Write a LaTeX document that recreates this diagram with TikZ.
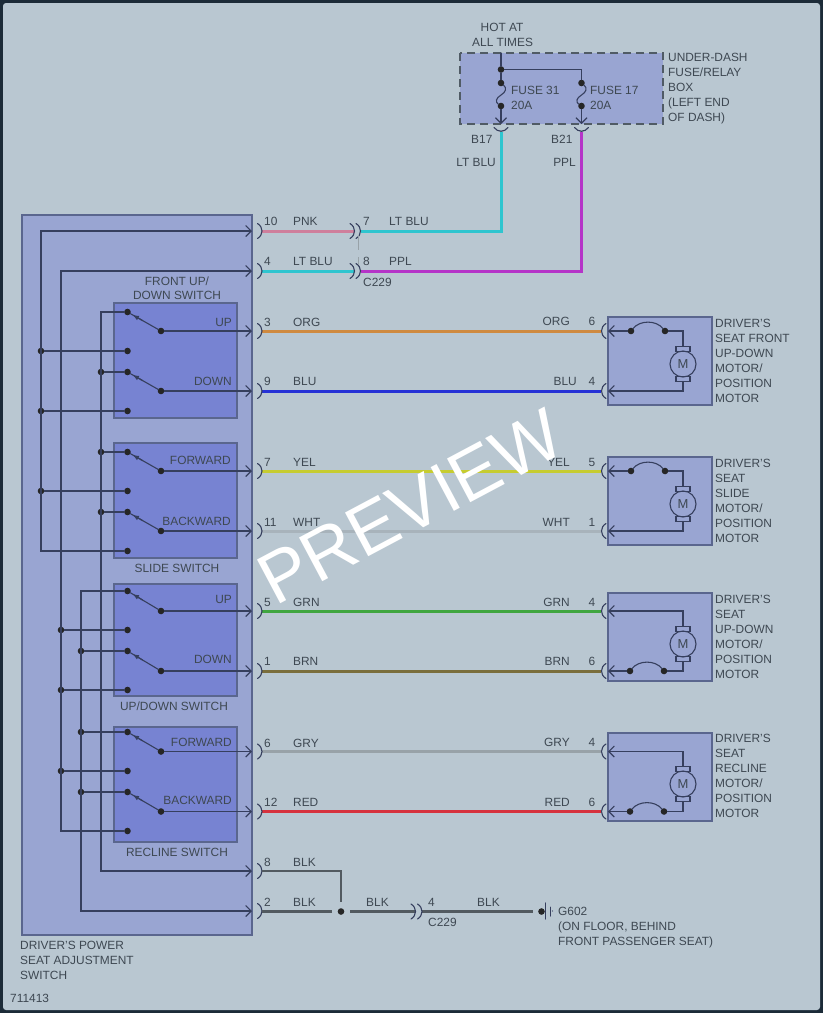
\documentclass[tikz,border=0pt]{standalone}
\usepackage{fontspec}
\setmainfont{Liberation Sans}
\usetikzlibrary{arrows.meta,calc}
\definecolor{bgc}{HTML}{B9C7D1}
\definecolor{framec}{HTML}{1C2B38}
\definecolor{mainc}{HTML}{99A5D2}
\definecolor{swc}{HTML}{7783D2}
\definecolor{edgec}{HTML}{5A668E}
\definecolor{linec}{HTML}{363F5E}
\definecolor{txtc}{HTML}{3E4852}
\definecolor{pnkc}{HTML}{CF7F9C}
\definecolor{ltbc}{HTML}{2FC5CF}
\definecolor{pplc}{HTML}{B534C8}
\definecolor{orgc}{HTML}{CF8A40}
\definecolor{bluc}{HTML}{2632D6}
\definecolor{yelc}{HTML}{C6CC30}
\definecolor{whtc}{HTML}{A8B3BB}
\definecolor{grnc}{HTML}{40A640}
\definecolor{brnc}{HTML}{7A6E3C}
\definecolor{gryc}{HTML}{98A2A8}
\definecolor{redc}{HTML}{D6323E}
\definecolor{blkc}{HTML}{525A60}
\tikzset{
  panel/.style={draw=edgec,line width=1.6pt,fill=mainc},
  swpanel/.style={draw=edgec,line width=1.6pt,fill=swc},
  conn/.style={line width=1.1pt,line cap=round,draw=linec},
  arrowed/.style={conn,-{Straight Barb[length=5.5pt,width=11pt,line width=1.1pt]}},
  jdot/.style={circle,fill=black!85,minimum size=6.6pt,inner sep=0pt,outer sep=0pt},
  harness/.style={line width=3pt},
  lab/.style={text=txtc,inner sep=0pt,font=\fontsize{11.9}{15}\selectfont,text height=8.5pt,text depth=0pt},
  blk/.style={text=txtc,inner sep=0pt,font=\fontsize{11.9}{15}\selectfont,align=left,anchor=north west},
}
\newcount\labn
\newcommand{\tl}[4]{\global\advance\labn by 1 \node[lab,anchor=#1] (t\the\labn) at (#2,#3) {#4};}
\newcommand{\tb}[3]{\global\advance\labn by 1 \node[blk] (t\the\labn) at (#1,#2) {#3};}
\newcommand{\plugR}[2]{\draw[conn,line width=1.1pt] (#1-5,#2-7.5) .. controls (#1+1,#2-4) and (#1+1,#2+4) .. (#1-5,#2+7.5);}
\newcommand{\plugL}[2]{\draw[conn,line width=1.1pt] (#1+5,#2-7.5) .. controls (#1-1,#2-4) and (#1-1,#2+4) .. (#1+5,#2+7.5);}
\newcommand{\arm}[3]{
  \node[jdot] (#1c) at (127.5,#2) {};
  \node[jdot] (#1p) at (161,#3) {};
  \coordinate (#1t) at (252,#3);
  \draw[conn] (#1c) -- (#1p);
  \draw[conn,-{Latex[length=6.5pt,width=5pt]}] ($(#1c)!0.45!(#1p)$) -- ($(#1c)!0.15!(#1p)$);
  \draw[arrowed] (#1p) -- (#1t);
}
\newcommand{\hw}[5]{
  \coordinate (#1a) at (#2,#4);
  \coordinate (#1b) at (#3,#4);
  \draw[harness,draw=#5] (#1a) -- (#1b);
}
\newcommand{\motorbody}[3]{
  \draw[panel] (608,#2) rectangle (712,#2+88);
  \node[circle,draw=linec,line width=1.1pt,minimum size=26pt,inner sep=0pt] (#1m) at (683,#3) {\textcolor{txtc}{\fontsize{13}{13}\selectfont M}};
  \draw[conn,fill=none] (676,#3-12.5) rectangle (690,#3-17.5);
  \draw[conn,fill=none] (676,#3+12.5) rectangle (690,#3+17.5);
}
\newcommand{\bimetal}[3]{
  \node[jdot] (#1x) at (#2,#3) {};
  \node[jdot] (#1y) at (#2+34,#3) {};
  \draw[conn] (#1x) .. controls (#2+9,#3-11) and (#2+25,#3-11) .. (#1y);
}
\begin{document}
\begin{tikzpicture}[x=1pt,y=-1pt]
\useasboundingbox (0,0) rectangle (823,1013);
\fill[framec] (0,0) rectangle (823,1013);
\fill[bgc,rounded corners=3pt] (3,3) rectangle (820,1010);

\draw[panel] (22,215) rectangle (252,935);
\draw[swpanel] (114,303) rectangle (237,418);
\draw[swpanel] (114,443) rectangle (237,558);
\draw[swpanel] (114,584) rectangle (237,696);
\draw[swpanel] (114,727) rectangle (237,842);
\draw[panel,dash pattern=on 8pt off 5pt,draw=txtc!85!bgc,line width=1.4pt] (460,53) rectangle (663,124);

\foreach \n/\x/\y in {a/41/351,b/101/372,c/41/411,d/101/452,e/41/491,f/101/512,g/61/630,h/81/651,i/61/690,j/81/732,k/61/771,l/81/792}{
  \node[jdot] (bus\n) at (\x,\y) {};
}
\foreach \n/\y in {a/351,c/411,e/491,g/630,i/690,k/771}{
  \node[jdot] (fix\n) at (127.5,\y) {};
  \draw[conn] (bus\n) -- (fix\n);
}
\node[jdot] (cs) at (127.5,551) {};
\node[jdot] (cu) at (127.5,831) {};

\arm{fu}{312}{331}
\arm{fd}{372}{391}
\arm{sf}{452}{471}
\arm{sb}{512}{531}
\arm{uu}{591}{611}
\arm{ud}{651}{671}
\arm{rf}{732}{751.5}
\arm{rb}{792}{811.5}
\foreach \n/\m in {b/fd,d/sf,f/sb,h/ud,j/rf,l/rb}{
  \draw[conn] (bus\n) -- (\m c);
}

\coordinate (t10) at (252,231);
\coordinate (t4) at (252,271);
\coordinate (t8) at (252,871);
\coordinate (t2) at (252,911);
\draw[arrowed] (cs) -- (41,551) -- (41,231) -- (t10);
\draw[arrowed] (cu) -- (61,831) -- (61,271) -- (t4);
\draw[arrowed] (fuc) -- (101,312) -- (101,871) -- (t8);
\draw[arrowed] (uuc) -- (81,591) -- (81,911) -- (t2);

\hw{pk}{262}{355}{231}{pnkc}
\hw{lb}{262}{355}{271}{ltbc}
\foreach \n/\y/\c in {o/331/orgc,b/391/bluc,y/471/yelc,w/531/whtc,g/611/grnc,n/671/brnc,a/751.5/gryc,r/811.5/redc}{
  \hw{r\n}{262}{601}{\y}{\c}
}
\node[jdot] (fsp) at (501,69.5) {};
\node[jdot] (f31a) at (501,83) {};
\node[jdot] (f31b) at (501,106) {};
\node[jdot] (f17a) at (581.5,83) {};
\node[jdot] (f17b) at (581.5,106) {};
\coordinate (hot) at (501,53);
\coordinate (b17) at (501,124);
\coordinate (b21) at (581.5,124);
\draw[conn] (hot) -- (fsp) -- (f31a);
\draw[conn] (fsp) -- (581.5,69.5) -- (f17a);
\draw[conn] (f31a) .. controls (507,88) and (506,92) .. (501,95) .. controls (496,98) and (495,102) .. (f31b);
\draw[conn] (f17a) .. controls (587.5,88) and (586.5,92) .. (581.5,95) .. controls (576.5,98) and (575.5,102) .. (f17b);
\draw[arrowed] (f31b) -- (b17);
\draw[arrowed] (f17b) -- (b21);
\draw[conn] (494,127.5) .. controls (498,132.5) and (504,132.5) .. (508,127.5);
\draw[conn] (574.5,127.5) .. controls (578.5,132.5) and (584.5,132.5) .. (588.5,127.5);
\coordinate (b17w) at (501,132);
\coordinate (b21w) at (581.5,132);
\coordinate (c7) at (361,231);
\coordinate (c8) at (361,271);
\draw[harness,draw=ltbc,line join=miter] (c7) -- (501,231) -- (b17w);
\draw[harness,draw=pplc,line join=miter] (c8) -- (581.5,271) -- (b21w);

\plugR{355}{231}\plugR{361}{231}
\plugR{355}{271}\plugR{361}{271}
\draw[gryc,line width=1pt] (358,235) -- (358,250) (358,257) -- (358,265);

\foreach \y in {231,271,331,391,471,531,611,671,751.5,811.5,871,911}{
  \plugR{262.5}{\y}
}
\foreach \y in {331,391,471,531,611,671,751.5,811.5}{
  \plugL{601}{\y}
}

\node[jdot] (spl) at (341,911.5) {};
\node[jdot] (gnd) at (541.5,911.5) {};
\coordinate (w8a) at (262,871);
\coordinate (w2a) at (262,911.5);
\coordinate (w2b) at (332,911.5);
\coordinate (w3a) at (350,911.5);
\coordinate (w3b) at (415.5,911.5);
\coordinate (w4a) at (422,911.5);
\coordinate (w4b) at (533,911.5);
\coordinate (w8c) at (341,902);
\draw[harness,draw=blkc,line join=miter,line width=2.6pt] (w8a) -- (341,871) -- (w8c);
\draw[harness,draw=blkc,line width=2.6pt] (w2a) -- (w2b);
\draw[harness,draw=blkc,line width=2.6pt] (w3a) -- (w3b);
\draw[harness,draw=blkc,line width=2.6pt] (w4a) -- (w4b);
\plugR{416}{911.5}\plugR{422.5}{911.5}
\draw[conn,line width=1.4pt] (545.5,903) -- (545.5,919);
\draw[conn,line width=1pt] (550,907) -- (550,916);
\fill[linec] (552.5,911) circle (0.6pt);

\motorbody{ma}{317}{364}
\motorbody{mb}{457}{504}
\motorbody{mc}{593}{644}
\motorbody{md}{733}{784}
\bimetal{ba}{631}{331}
\bimetal{bb}{631}{471}
\bimetal{bc}{630}{671}
\bimetal{bd}{630}{811.5}
\coordinate (maL) at (608,331);\coordinate (maR) at (608,391);
\coordinate (mbL) at (608,471);\coordinate (mbR) at (608,531);
\coordinate (mcL) at (608,611);\coordinate (mcR) at (608,671);
\coordinate (mdL) at (608,751.5);\coordinate (mdR) at (608,811.5);
\draw[arrowed] (bax) -- (maL);
\draw[conn] (bay) -- (683,331) -- (683,346.5);
\draw[arrowed] (683,381.5) -- (683,391) -- (maR);
\draw[arrowed] (bbx) -- (mbL);
\draw[conn] (bby) -- (683,471) -- (683,486.5);
\draw[arrowed] (683,521.5) -- (683,531) -- (mbR);
\draw[arrowed] (683,626.5) -- (683,611) -- (mcL);
\draw[conn] (683,661.5) -- (683,671) -- (bcy);
\draw[arrowed] (bcx) -- (mcR);
\draw[arrowed] (683,766.5) -- (683,751.5) -- (mdL);
\draw[conn] (683,801.5) -- (683,811.5) -- (bdy);
\draw[arrowed] (bdx) -- (mdR);

\tb{472}{22.5}{\hspace*{8.5pt}HOT AT\\ALL TIMES}
\tb{668}{53}{UNDER-DASH\\FUSE/RELAY\\BOX\\(LEFT END\\OF DASH)}
\tb{511}{85.5}{FUSE 31\\20A}
\tb{590}{85.5}{FUSE 17\\20A}
\tl{west}{471}{139}{B17}
\tl{west}{551}{139}{B21}
\tl{east}{496}{162}{LT BLU}
\tl{east}{576}{162}{PPL}

\foreach \y/\n/\w in {221/10/PNK,261/4/LT BLU,322/3/ORG,381/9/BLU,462/7/YEL,522/11/WHT,602/5/GRN,661/1/BRN,743/6/GRY,802/12/RED,862/8/BLK,902/2/BLK}{
  \tl{west}{264}{\y}{\n}
  \tl{west}{293}{\y}{\w}
}
\tl{west}{363}{221}{7}
\tl{west}{389}{221}{LT BLU}
\tl{west}{363}{261}{8}
\tl{west}{389}{261}{PPL}
\tl{west}{363}{282}{C229}
\tl{west}{366}{902}{BLK}
\tl{west}{428}{902}{4}
\tl{west}{477}{902}{BLK}
\tl{west}{428}{922}{C229}

\foreach \y/\w/\n/\e in {321/ORG/6/570,381/BLU/4/577,462/YEL/5/570,522/WHT/1/570,602/GRN/4/570,661/BRN/6/570,742/GRY/4/570,802/RED/6/570}{
  \tl{east}{\e}{\y}{\w}
  \tl{center}{592}{\y}{\n}
}

\tl{east}{232}{322}{UP}
\tl{east}{232}{381}{DOWN}
\tl{east}{231}{460}{FORWARD}
\tl{east}{231}{521}{BACKWARD}
\tl{east}{232}{599}{UP}
\tl{east}{232}{659}{DOWN}
\tl{east}{232}{742}{FORWARD}
\tl{east}{232}{800}{BACKWARD}
\tl{center}{177}{281}{FRONT UP/}
\tl{center}{177}{295}{DOWN SWITCH}
\tl{center}{177}{568}{SLIDE SWITCH}
\tl{center}{174}{706}{UP/DOWN SWITCH}
\tl{center}{177}{852}{RECLINE SWITCH}

\tb{20}{941}{DRIVER'S POWER\\SEAT ADJUSTMENT\\SWITCH}
\tl{west}{10}{998}{711413}
\tb{558}{907}{G602\\(ON FLOOR, BEHIND\\FRONT PASSENGER SEAT)}
\tb{715}{319}{DRIVER'S\\SEAT FRONT\\UP-DOWN\\MOTOR/\\POSITION\\MOTOR}
\tb{715}{459}{DRIVER'S\\SEAT\\SLIDE\\MOTOR/\\POSITION\\MOTOR}
\tb{715}{595}{DRIVER'S\\SEAT\\UP-DOWN\\MOTOR/\\POSITION\\MOTOR}
\tb{715}{734}{DRIVER'S\\SEAT\\RECLINE\\MOTOR/\\POSITION\\MOTOR}

\node[rotate=28,text=white,inner sep=0pt,font=\fontsize{72}{72}\selectfont] (wm) at (410,507) {PREVIEW};
\end{tikzpicture}
\end{document}
